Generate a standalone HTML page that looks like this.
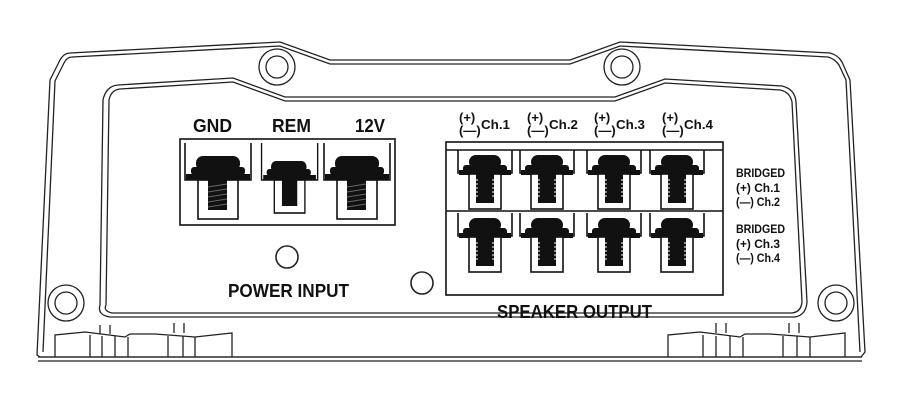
<!DOCTYPE html>
<html><head><meta charset="utf-8"><style>
html,body{margin:0;padding:0;background:#fff;}
svg{display:block;}
text{font-family:"Liberation Sans",sans-serif;font-weight:bold;fill:#111;}
</style></head><body>
<svg width="900" height="400" viewBox="0 0 900 400" xmlns="http://www.w3.org/2000/svg">
<defs>
<g id="spk">
  <path d="M2 0 V23 H14 M44 23 H56 V0" fill="none" stroke="#111" stroke-width="1.6"/>
  <rect x="13" y="5" width="32" height="14" rx="7" fill="#111"/>
  <rect x="7" y="15" width="44" height="8" rx="3" fill="#111"/>
  <rect x="3" y="20" width="52" height="5" fill="#111"/>
  <rect x="13" y="24" width="32" height="35" fill="#fff" stroke="#111" stroke-width="1.6"/>
  <rect x="20" y="24" width="18" height="29" fill="#111"/>
  <path d="M20 30h2M20 34h2M20 38h2M20 42h2M20 46h2M36 30h2M36 34h2M36 38h2M36 42h2M36 46h2" stroke="#fff" stroke-width="1"/>
</g>
<g id="pwr">
  <path d="M3 0 V37 H16 M56 37 H69 V0" fill="none" stroke="#111" stroke-width="1.6"/>
  <rect x="14" y="13" width="44" height="15" rx="7" fill="#111"/>
  <rect x="9" y="24" width="54" height="8" rx="3" fill="#111"/>
  <rect x="4" y="31" width="64" height="6" fill="#111"/>
  <rect x="16" y="37" width="40" height="39" fill="#fff" stroke="#111" stroke-width="1.6"/>
  <rect x="26" y="37" width="19" height="30" fill="#111"/>
  <path d="M26 44l19-3M26 49l19-3M26 54l19-3M26 59l19-3M26 64l19-3" stroke="#666" stroke-width="1"/>
</g>
</defs>
<g fill="none" stroke="#222" stroke-width="1.3">
  <path d="M40 357 L37 355 L50 80 L60 60 Q64 53 70 53 L280 42 L330 60 L570 60 L620 42 L830 53 Q838 55 842 62 L850 80 L865 352 L861 357 Z"/>
  <path d="M43 352 L55 81 L64 63 Q67 57 72 57 L280 46 L330 64 L570 64 L620 46 L828 57 Q835 59 839 65 L846 80 L860 352"/>
  <path d="M38 357 H862 M38 361 H862" />
  <path d="M100 305 L103 100 Q106 86 118 85 L233 78 L285 97 L615 97 L665 79 L782 86 Q795 89 796 102 L807 302 Q806 315 795 317 L110 317 Q97 315 100 305 Z"/>
  <path d="M106 305 L109 100 Q111 90 120 89 L233 82 L285 101 L615 101 L665 83 L780 90 Q790 92 792 102 L802 302 Q801 312 792 313 L112 313 Q103 311 106 305 Z"/>
  <circle cx="277" cy="67" r="18"/><circle cx="277" cy="67" r="11"/>
  <circle cx="622" cy="67" r="18"/><circle cx="622" cy="67" r="11"/>
  <circle cx="66" cy="303" r="18"/><circle cx="66" cy="303" r="11"/>
  <circle cx="836" cy="303" r="18"/><circle cx="836" cy="303" r="11"/>
  <path d="M55 357 V335 L85 332 L125 337 L130 334 L155 334 L195 337 L232 333 V357"/>
  <path d="M90 335 V357 M102 336 V357 M115 336 V357 M128 337 V357 M168 336 V357 M183 336 V357 M195 337 V357"/>
  <path d="M100 325 V334 M110 325 V334 M174 323 V333 M184 323 V333"/>
  <path d="M668 357 V335 L700 332 L740 337 L745 334 L770 334 L810 337 L845 333 V357"/>
  <path d="M703 335 V357 M716 336 V357 M730 336 V357 M743 337 V357 M783 336 V357 M797 336 V357 M810 337 V357"/>
  <path d="M716 323 V333 M726 323 V333 M789 323 V333 M799 323 V333"/>
  <circle cx="287" cy="257" r="11" stroke-width="1.6"/>
  <circle cx="422" cy="283" r="11" stroke-width="1.6"/>
</g>
<rect x="180" y="139" width="215" height="86" fill="none" stroke="#111" stroke-width="1.6"/>
<use href="#pwr" x="182" y="143"/>
<g transform="translate(259,143) scale(0.85,1)">
  <path d="M3 0 V37 H18 M54 37 H69 V0" fill="none" stroke="#111" stroke-width="1.6"/>
  <rect x="14" y="18" width="42" height="12" rx="6" fill="#111"/>
  <rect x="9" y="26" width="52" height="7" rx="3" fill="#111"/>
  <rect x="5" y="32" width="62" height="5" fill="#111"/>
  <rect x="18" y="37" width="36" height="33" fill="#fff" stroke="#111" stroke-width="1.6"/>
  <rect x="27" y="37" width="18" height="26" fill="#111"/>
</g>
<use href="#pwr" x="321" y="143"/>
<text x="193" y="132" font-size="18" textLength="39" lengthAdjust="spacingAndGlyphs">GND</text>
<text x="272" y="132" font-size="18" textLength="39" lengthAdjust="spacingAndGlyphs">REM</text>
<text x="355" y="132" font-size="18" textLength="30" lengthAdjust="spacingAndGlyphs">12V</text>
<text x="228" y="297" font-size="18" textLength="121" lengthAdjust="spacingAndGlyphs">POWER INPUT</text>
<rect x="446" y="142" width="277" height="153" fill="none" stroke="#111" stroke-width="1.6"/>
<line x1="446" y1="150" x2="723" y2="150" stroke="#111" stroke-width="1.6"/>
<line x1="446" y1="211" x2="723" y2="211" stroke="#111" stroke-width="1.6"/>
<use href="#spk" x="456" y="150"/><use href="#spk" x="518" y="150"/>
<use href="#spk" x="585" y="150"/><use href="#spk" x="648" y="150"/>
<use href="#spk" x="456" y="213"/><use href="#spk" x="518" y="213"/>
<use href="#spk" x="585" y="213"/><use href="#spk" x="648" y="213"/>
<g font-size="13">
  <text x="459" y="122">(+)</text><text x="459" y="135">(—)</text><text x="481" y="129" textLength="29" lengthAdjust="spacingAndGlyphs">Ch.1</text>
  <text x="527" y="122">(+)</text><text x="527" y="135">(—)</text><text x="549" y="129" textLength="29" lengthAdjust="spacingAndGlyphs">Ch.2</text>
  <text x="594" y="122">(+)</text><text x="594" y="135">(—)</text><text x="616" y="129" textLength="29" lengthAdjust="spacingAndGlyphs">Ch.3</text>
  <text x="662" y="122">(+)</text><text x="662" y="135">(—)</text><text x="684" y="129" textLength="29" lengthAdjust="spacingAndGlyphs">Ch.4</text>
</g>
<g font-size="12">
  <text x="736" y="177" textLength="49" lengthAdjust="spacingAndGlyphs">BRIDGED</text>
  <text x="736" y="192" textLength="44" lengthAdjust="spacingAndGlyphs">(+) Ch.1</text>
  <text x="736" y="206" textLength="44" lengthAdjust="spacingAndGlyphs">(—) Ch.2</text>
  <text x="736" y="233" textLength="49" lengthAdjust="spacingAndGlyphs">BRIDGED</text>
  <text x="736" y="248" textLength="44" lengthAdjust="spacingAndGlyphs">(+) Ch.3</text>
  <text x="736" y="262" textLength="44" lengthAdjust="spacingAndGlyphs">(—) Ch.4</text>
</g>
<text x="497" y="318" font-size="18" textLength="155" lengthAdjust="spacingAndGlyphs">SPEAKER OUTPUT</text>
</svg>
</body></html>
